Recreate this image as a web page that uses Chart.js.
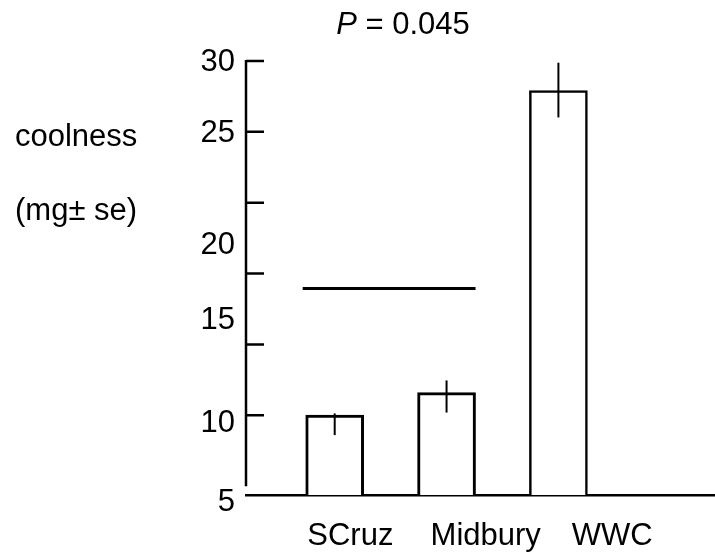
<!DOCTYPE html>
<html>
<head>
<meta charset="utf-8">
<script src="https://cdn.jsdelivr.net/npm/chart.js@4"></script>
<style>
  body { margin: 0; background: #fff; }
  canvas { display: block; }
</style>
</head>
<body>
<canvas id="chart" width="715" height="557"></canvas>
<script>
const categories = ['SCruz', 'Midbury', 'WWC'];
const means = [9.6, 10.9, 28.3];
const errTop = [9.7, 11.6, 29.9];
const errBottom = [8.45, 9.75, 26.75];
const sigLevel = 16.9;      // bracket over SCruz + Midbury
const pValue = '0.045';
const yTickLabels = ['5', '10', '15', '20', '25', '30'];

// the original's labels don't sit on the tick marks, so place them by hand
const yLabelAt = [4.55, 9.1, 15.05, 19.4, 25.8, 29.9];
const xLabelAt = [1.14, 2.35, 3.48];

const FONT = '"Liberation Sans", Arial, sans-serif';
const FS = 31;

const decor = {
  id: 'decor',
  afterDatasetsDraw(chart) {
    const { ctx, chartArea, scales } = chart;
    const y = scales.y;
    const yt = scales.yt;
    const bars = chart.getDatasetMeta(0).data;

    ctx.save();
    ctx.strokeStyle = '#000';

    // y axis line with tick marks pointing inward
    ctx.lineWidth = 2.5;
    ctx.beginPath();
    ctx.moveTo(chartArea.left, yt.getPixelForValue(yt.max) - 1);
    ctx.lineTo(chartArea.left, yt.getPixelForValue(0));
    yt.ticks.forEach(t => {
      const py = yt.getPixelForValue(t.value);
      ctx.moveTo(chartArea.left, py);
      ctx.lineTo(chartArea.left + 18, py);
    });
    ctx.stroke();

    // error bars
    ctx.lineWidth = 2;
    bars.forEach((bar, i) => {
      ctx.beginPath();
      ctx.moveTo(bar.x, y.getPixelForValue(errTop[i]));
      ctx.lineTo(bar.x, y.getPixelForValue(errBottom[i]));
      ctx.stroke();
    });

    // significance line
    const a = bars[0], b = bars[1];
    const sy = y.getPixelForValue(sigLevel);
    ctx.lineWidth = 3;
    ctx.beginPath();
    ctx.moveTo(a.x - a.width / 2 - 3, sy);
    ctx.lineTo(b.x + b.width / 2, sy);
    ctx.stroke();

    // title: italic P
    ctx.fillStyle = '#000';
    ctx.textBaseline = 'middle';
    ctx.textAlign = 'left';
    ctx.font = 'italic ' + FS + 'px ' + FONT;
    const pw = ctx.measureText('P').width;
    ctx.font = FS + 'px ' + FONT;
    const rest = ' = ' + pValue;
    const rw = ctx.measureText(rest).width;
    const tx = 403 - (pw + rw) / 2;
    ctx.font = 'italic ' + FS + 'px ' + FONT;
    ctx.fillText('P', tx, 25);
    ctx.font = FS + 'px ' + FONT;
    ctx.fillText(rest, tx + pw, 25);

    // y axis title, two horizontal lines
    ctx.fillText('coolness', 15, 137);
    ctx.fillText('(mg\u00b1 se)', 15, 211);
    ctx.restore();
  }
};

new Chart(document.getElementById('chart'), {
  type: 'bar',
  data: {
    datasets: [{
      data: categories.map((c, i) => ({ x: i + 1, y: means[i] })),
      backgroundColor: '#fff',
      borderColor: '#000',
      borderWidth: [3, 3, 2.5],
      borderSkipped: false,
      barThickness: 58
    }]
  },
  plugins: [decor],
  options: {
    responsive: false,
    animation: false,
    layout: { padding: { top: 61, right: 0, bottom: 0, left: 0 } },
    plugins: {
      legend: { display: false },
      tooltip: { enabled: false }
    },
    scales: {
      x: {
        type: 'linear',
        position: 'bottom',
        offset: false,
        min: 0.207,
        max: 4.4,
        afterBuildTicks: s => { s.ticks = xLabelAt.map(v => ({ value: v })); },
        afterFit: s => { s.height = 62; },
        grid: { display: false, drawTicks: false, offset: false },
        border: { display: true, color: '#000', width: 2.5 },
        ticks: {
          callback: (v, i) => categories[i],
          color: '#000',
          font: { family: FONT, size: FS },
          padding: 23,
          maxRotation: 0,
          autoSkip: false
        }
      },
      y: {
        type: 'linear',
        position: 'left',
        min: 5,
        max: 30,
        afterBuildTicks: s => { s.ticks = yLabelAt.map(v => ({ value: v })); },
        afterFit: s => { s.width = 246; },
        grid: { display: false, drawTicks: false },
        border: { display: false },
        ticks: {
          callback: (v, i) => yTickLabels[i],
          color: '#000',
          font: { family: FONT, size: FS },
          padding: 11,
          autoSkip: false
        }
      },
      yt: {
        type: 'linear',
        display: false,
        min: -0.62,
        max: 30,
        ticks: { stepSize: 5 },
        afterBuildTicks: s => { s.ticks = s.ticks.filter(t => t.value >= 5); }
      }
    }
  }
});
</script>
</body>
</html>
